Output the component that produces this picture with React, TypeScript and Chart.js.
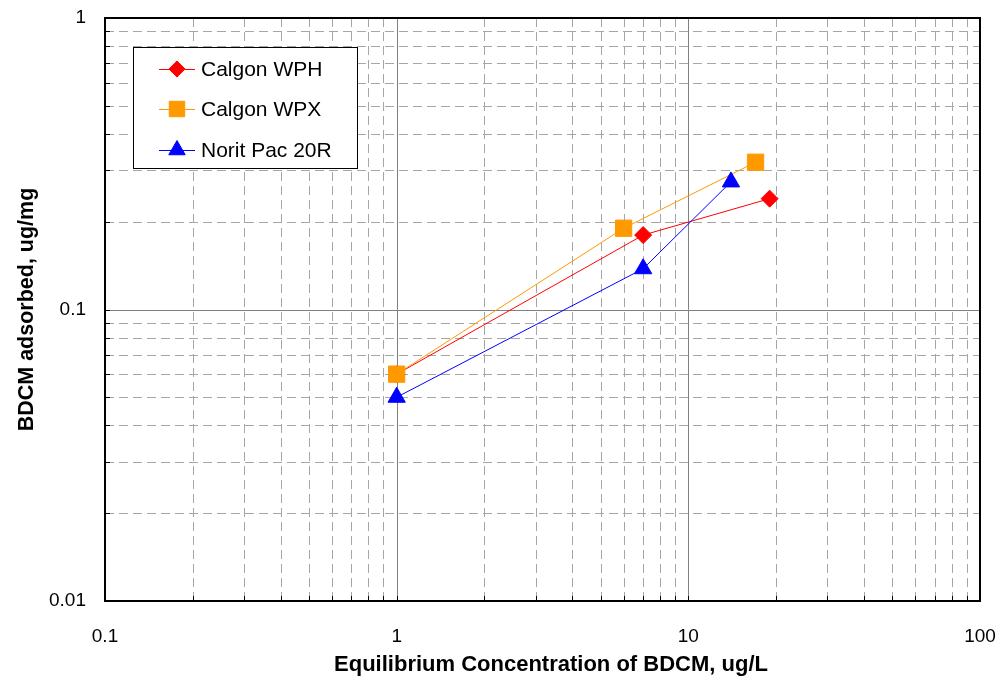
import React, { useEffect, useRef } from "react";
import { Chart, registerables } from "chart.js";

Chart.register(...registerables);

const seriesNames = ["Calgon WPH", "Calgon WPX", "Norit Pac 20R"];
const wphX = [1, 7, 19];
const wphY = [0.06, 0.18, 0.24];
const wpxX = [1, 6, 17];
const wpxY = [0.06, 0.19, 0.32];
const noritX = [1, 7, 14];
const noritY = [0.05, 0.138, 0.274];

const xTickLabels = ["0.1", "1", "10", "100"];
const yTickLabels = ["0.01", "0.1", "1"];
const xTitle = "Equilibrium Concentration of BDCM, ug/L";
const yTitle = "BDCM adsorbed, ug/mg";

const colors = ["#FF0000", "#FF9900", "#0000FF"];
const pointStyles = ["rectRot", "rect", "triangle"];
const pointRadii = [8.5, 11.5, 10];

const FONT = "'Liberation Sans', Arial, Helvetica, sans-serif";

function logTicks(labels: string[]) {
  const majors = labels.map(Number);
  const vals: number[] = [];
  for (let i = 0; i < majors.length; i++) {
    const m = majors[i];
    if (i === majors.length - 1) {
      vals.push(m);
    } else {
      for (let k = 1; k <= 9; k++) vals.push(+(m * k).toPrecision(6));
    }
  }
  return { majors, vals };
}

const xT = logTicks(xTickLabels);
const yT = logTicks(yTickLabels);

function drawMarker(ctx: CanvasRenderingContext2D, style: string, x: number, y: number, r: number, color: string) {
  ctx.save();
  ctx.fillStyle = color;
  ctx.strokeStyle = color;
  ctx.lineWidth = 1;
  ctx.beginPath();
  if (style === "rectRot") {
    ctx.moveTo(x, y - r);
    ctx.lineTo(x + r, y);
    ctx.lineTo(x, y + r);
    ctx.lineTo(x - r, y);
    ctx.closePath();
  } else if (style === "rect") {
    const s = r * Math.SQRT1_2;
    ctx.rect(x - s, y - s, 2 * s, 2 * s);
  } else {
    for (let i = 0; i < 3; i++) {
      const a = (i * 2 * Math.PI) / 3;
      const px = x + Math.sin(a) * r;
      const py = y - Math.cos(a) * r;
      if (i === 0) ctx.moveTo(px, py);
      else ctx.lineTo(px, py);
    }
    ctx.closePath();
  }
  ctx.fill();
  ctx.stroke();
  ctx.restore();
}

const gridPlugin = {
  id: "customGrid",
  beforeDatasetsDraw(chart: any) {
    const { ctx, chartArea } = chart;
    const xs = chart.scales.x;
    const ys = chart.scales.y;
    const { left, right, top, bottom } = chartArea;
    ctx.save();
    ctx.lineWidth = 1;
    ctx.strokeStyle = "#A6A6A6";
    ctx.setLineDash([9, 5]);
    for (const v of xT.vals) {
      if (xT.majors.includes(v)) continue;
      const px = Math.round(xs.getPixelForValue(v)) + 0.5;
      ctx.beginPath();
      ctx.moveTo(px, top);
      ctx.lineTo(px, bottom);
      ctx.stroke();
    }
    for (const v of yT.vals) {
      if (yT.majors.includes(v)) continue;
      const py = Math.round(ys.getPixelForValue(v)) + 0.5;
      ctx.beginPath();
      ctx.moveTo(left, py);
      ctx.lineTo(right, py);
      ctx.stroke();
    }
    ctx.setLineDash([]);
    ctx.strokeStyle = "#808080";
    for (const v of xT.majors) {
      const px = Math.round(xs.getPixelForValue(v)) + 0.5;
      ctx.beginPath();
      ctx.moveTo(px, top);
      ctx.lineTo(px, bottom);
      ctx.stroke();
    }
    for (const v of yT.majors) {
      const py = Math.round(ys.getPixelForValue(v)) + 0.5;
      ctx.beginPath();
      ctx.moveTo(left, py);
      ctx.lineTo(right, py);
      ctx.stroke();
    }
    ctx.strokeStyle = "#000000";
    for (const v of xT.vals) {
      const px = Math.round(xs.getPixelForValue(v)) + 0.5;
      ctx.beginPath();
      ctx.moveTo(px, bottom);
      ctx.lineTo(px, bottom - 5);
      ctx.stroke();
    }
    for (const v of yT.vals) {
      const py = Math.round(ys.getPixelForValue(v)) + 0.5;
      ctx.beginPath();
      ctx.moveTo(left, py);
      ctx.lineTo(left + 5, py);
      ctx.stroke();
    }
    ctx.lineWidth = 2;
    ctx.strokeStyle = "#000000";
    ctx.strokeRect(left, top, right - left, bottom - top);
    ctx.restore();
  },
};

const overlayPlugin = {
  id: "customOverlay",
  afterDraw(chart: any) {
    const { ctx } = chart;
    ctx.save();
    ctx.fillStyle = "#000000";
    ctx.font = `bold 22px ${FONT}`;
    ctx.textAlign = "center";
    ctx.textBaseline = "middle";
    ctx.fillText(xTitle, 551, 665);
    ctx.fillStyle = "#FFFFFF";
    ctx.fillRect(133, 47, 224, 121);
    ctx.strokeStyle = "#000000";
    ctx.lineWidth = 1;
    ctx.strokeRect(133.5, 47.5, 224, 121);
    const rows = [69, 109, 150];
    seriesNames.forEach((name, i) => {
      const y = rows[i];
      ctx.strokeStyle = colors[i];
      ctx.lineWidth = 1;
      ctx.beginPath();
      ctx.moveTo(159, y + 0.5);
      ctx.lineTo(195, y + 0.5);
      ctx.stroke();
      drawMarker(ctx, pointStyles[i], 177, y, pointRadii[i] * 0.95, colors[i]);
      ctx.fillStyle = "#000000";
      ctx.font = `21px ${FONT}`;
      ctx.textBaseline = "middle";
      ctx.textAlign = "left";
      ctx.fillText(name, 201, y + 1);
    });
    ctx.restore();
  },
};

export default function App() {
  const ref = useRef<HTMLCanvasElement | null>(null);
  useEffect(() => {
    if (!ref.current) return;
    const mk = (xs: number[], ys: number[]) => xs.map((x, i) => ({ x, y: ys[i] }));
    const data = [mk(wphX, wphY), mk(wpxX, wpxY), mk(noritX, noritY)];
    // lower order is drawn on top
    const order = [1, 0, -1];
    const zeroPad = (scale: any) => {
      scale.paddingLeft = 0;
      scale.paddingRight = 0;
      scale.paddingTop = 0;
      scale.paddingBottom = 0;
    };
    const chart = new Chart(ref.current, {
      type: "line",
      data: {
        datasets: seriesNames.map((name, i) => ({
          label: name,
          data: data[i],
          borderColor: colors[i],
          backgroundColor: colors[i],
          borderWidth: 1,
          pointStyle: pointStyles[i] as any,
          pointRadius: pointRadii[i],
          pointBorderWidth: 1,
          pointBorderColor: colors[i],
          pointBackgroundColor: colors[i],
          fill: false,
          tension: 0,
          order: order[i],
        })),
      },
      options: {
        animation: false,
        responsive: false,
        devicePixelRatio: 1,
        layout: { padding: { top: 18, right: 23, left: 0, bottom: 0 } },
        plugins: {
          legend: { display: false },
          tooltip: { enabled: false },
        },
        scales: {
          x: {
            type: "logarithmic",
            min: 0.1,
            max: 100,
            grid: { display: false, drawTicks: false },
            border: { display: false },
            afterBuildTicks: (scale: any) => {
              scale.ticks = xT.vals.map((v) => ({ value: v }));
            },
            afterFit: (scale: any) => {
              scale.height = 85;
              zeroPad(scale);
            },
            ticks: {
              autoSkip: false,
              maxRotation: 0,
              padding: 24,
              color: "#000000",
              font: { family: FONT, size: 19 },
              callback: (v: any) => {
                const idx = xT.majors.findIndex((m) => Math.abs(m - Number(v)) < 1e-9);
                return idx >= 0 ? xTickLabels[idx] : "";
              },
            },
            title: { display: false },
          },
          y: {
            type: "logarithmic",
            min: 0.01,
            max: 1,
            grid: { display: false, drawTicks: false },
            border: { display: false },
            afterBuildTicks: (scale: any) => {
              scale.ticks = yT.vals.map((v) => ({ value: v }));
            },
            afterFit: (scale: any) => {
              scale.width = 105;
              zeroPad(scale);
            },
            ticks: {
              autoSkip: false,
              padding: 19,
              color: "#000000",
              font: { family: FONT, size: 19 },
              callback: (v: any) => {
                const idx = yT.majors.findIndex((m) => Math.abs(m - Number(v)) < 1e-12);
                return idx >= 0 ? yTickLabels[idx] : "";
              },
            },
            title: {
              display: true,
              text: yTitle,
              color: "#000000",
              font: { family: FONT, size: 21.5, weight: "bold" },
              padding: { top: 14, bottom: 0 },
            },
          },
        },
      },
      plugins: [gridPlugin, overlayPlugin],
    });
    return () => chart.destroy();
  }, []);
  return (
    <div style={{ position: "absolute", left: 0, top: 0, width: 1003, height: 686, background: "#FFFFFF" }}>
      <canvas ref={ref} width={1003} height={686} />
    </div>
  );
}
